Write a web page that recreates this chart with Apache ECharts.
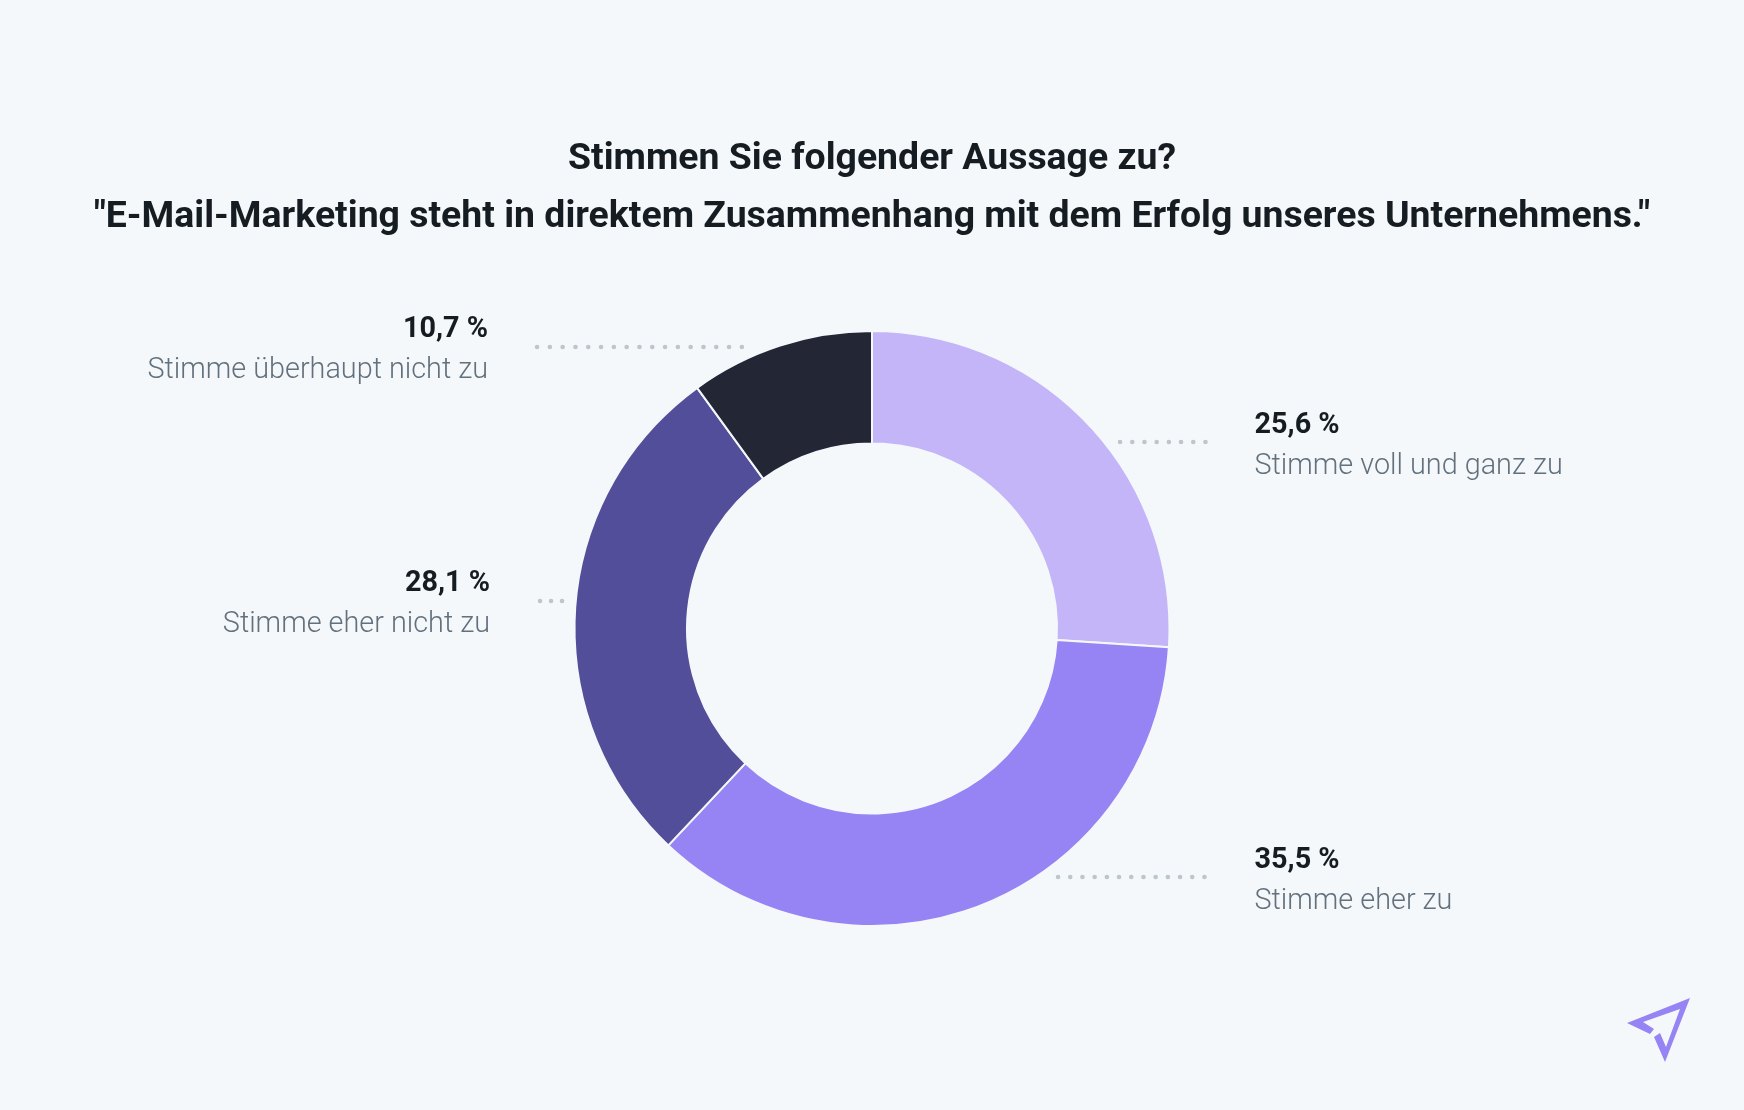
<!DOCTYPE html>
<html>
<head>
<meta charset="utf-8">
<title>E-Mail-Marketing</title>
<script src="https://cdn.jsdelivr.net/npm/echarts@6/dist/echarts.min.js"></script>
<style>
html, body { margin: 0; padding: 0; background: #f5f8fb; }
#chart { width: 1744px; height: 1110px; }
</style>
</head>
<body>
<div id="chart"></div>
<script>
var titleLines = ['Stimmen Sie folgender Aussage zu?', '"E-Mail-Marketing steht in direktem Zusammenhang mit dem Erfolg unseres Unternehmens."'];
var answers = ['Stimme voll und ganz zu', 'Stimme eher zu', 'Stimme eher nicht zu', 'Stimme überhaupt nicht zu'];
// die Beschriftung im Original weicht von der gezeichneten Bogengröße ab, deshalb zwei Listen
var shareLabels = ['25,6 %', '35,5 %', '28,1 %', '10,7 %'];
var arcSizes = [26, 36, 28, 10];
var colors = ['#c4b5f9', '#9684f4', '#534e99', '#232635'];

// [Text x, Text y, Ausrichtung, Punktlinie von, Punktlinie bis, Linie y, Punktabstand]
var labelPos = [
	[1254.5, 446, 'left', 1120, 1207, 442, 12.2],
	[1254.5, 881, 'left', 1058, 1207, 877, 12.2],
	[490, 604.5, 'right', 540, 563, 601, 11],
	[488, 350.5, 'right', 537, 744, 347, 12.8]
];

var myChart = echarts.init(document.getElementById('chart'));

var pieData = [];
for (var i = 0; i < answers.length; i++) {
	pieData.push({
		name: answers[i],
		value: arcSizes[i],
		itemStyle: { color: colors[i] },
		labelLine: { lineStyle: { type: [0.1, labelPos[i][6] - 0.1] } }
	});
}

myChart.setOption({
	animation: false,
	backgroundColor: '#f5f8fb',
	title: {
		text: titleLines.join('\n'),
		left: 872,
		top: 131,
		padding: 0,
		textAlign: 'center',
		textStyle: {
			fontFamily: 'Roboto',
			fontSize: 37.4,
			fontWeight: 700,
			lineHeight: 58,
			color: '#151c22'
		}
	},
	series: [{
		type: 'pie',
		center: [872, 628.5],
		radius: [185, 297.5],
		startAngle: 90,
		clockwise: true,
		silent: true,
		data: pieData,
		itemStyle: { borderColor: '#f5f8fb', borderWidth: 2 },
		label: {
			show: true,
			formatter: function (p) {
				return '{v|' + shareLabels[p.dataIndex] + '}\n{n|' + p.name + '}';
			},
			rich: {
				v: { fontFamily: 'Roboto', fontSize: 28.8, fontWeight: 700, lineHeight: 41, color: '#151c22' },
				n: { fontFamily: 'Roboto', fontSize: 28.8, fontWeight: 300, lineHeight: 41, color: '#62717d' }
			}
		},
		labelLine: {
			show: true,
			lineStyle: { color: '#bcc6cb', width: 4.5, cap: 'round' }
		},
		labelLayout: function (params) {
			var p = labelPos[params.dataIndex];
			return {
				x: p[0],
				y: p[1],
				align: p[2],
				verticalAlign: 'middle',
				labelLinePoints: [[p[3], p[5]], [(p[3] + p[4]) / 2, p[5]], [p[4], p[5]]]
			};
		}
	}],
	graphic: [{
		type: 'polygon',
		silent: true,
		shape: {
			points: [[1627, 1023], [1690, 998], [1665, 1062], [1654, 1037], [1660, 1033], [1666, 1047], [1680, 1009], [1643, 1022], [1654, 1029], [1650, 1034]]
		},
		style: { fill: '#9684f4' }
	}]
});
</script>
</body>
</html>
